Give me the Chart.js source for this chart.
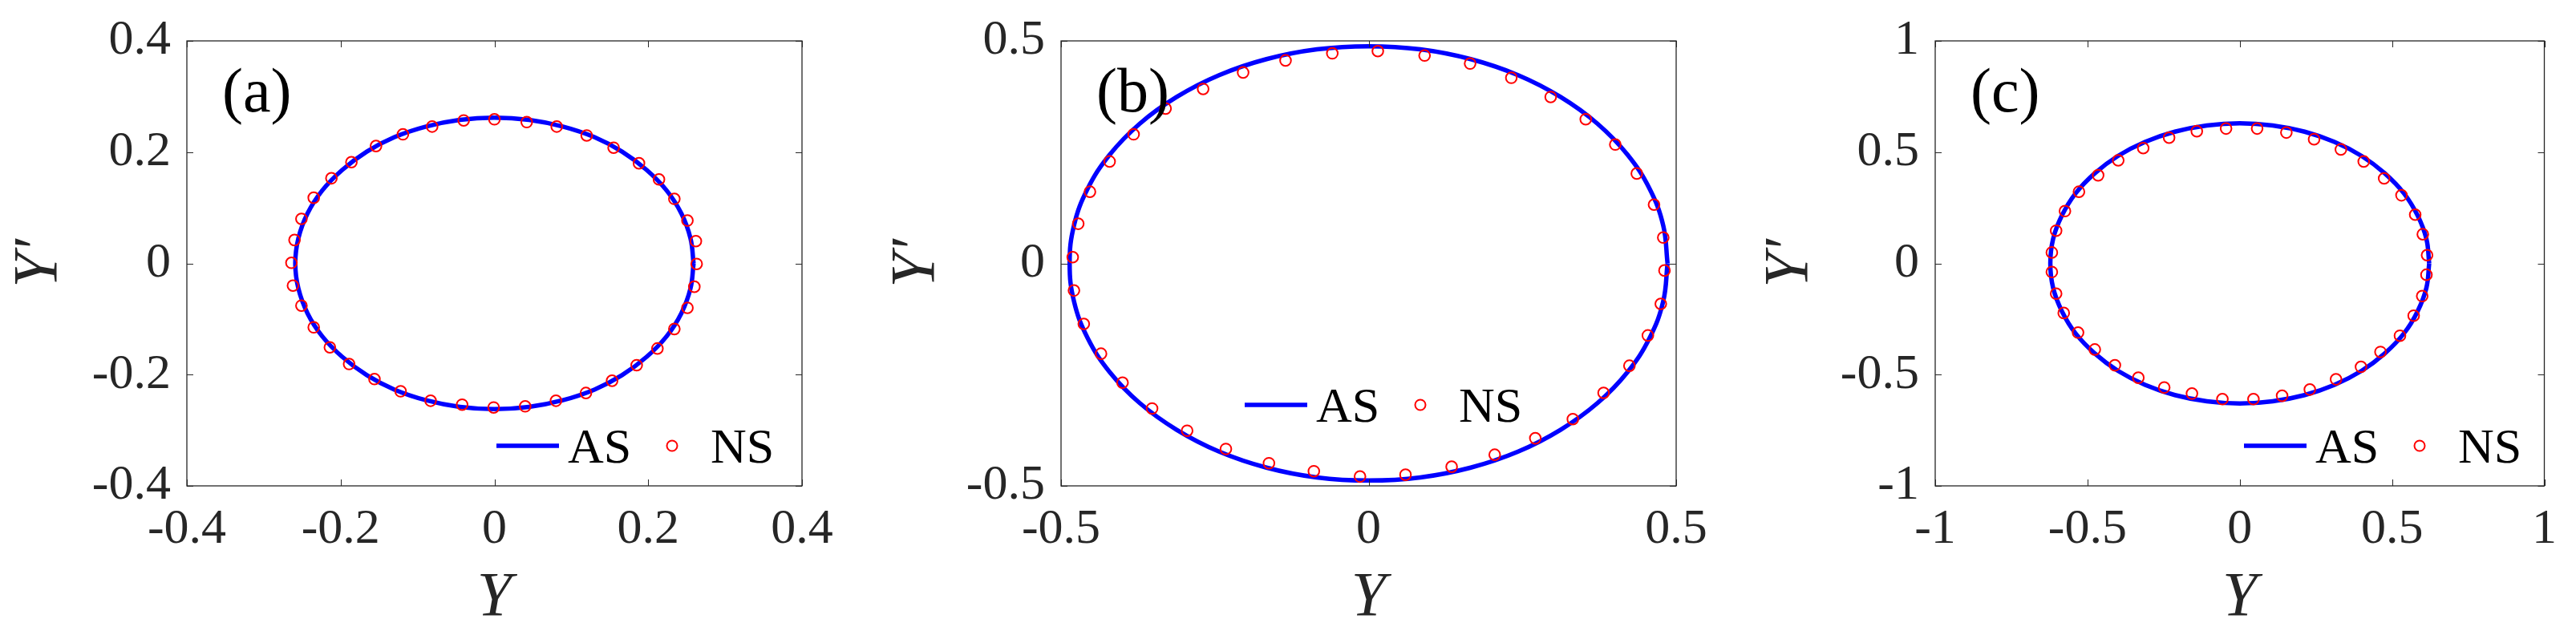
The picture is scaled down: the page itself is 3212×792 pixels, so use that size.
<!DOCTYPE html>
<html>
<head>
<meta charset="utf-8">
<script src="https://cdn.jsdelivr.net/npm/chart.js@4.4.1/dist/chart.umd.min.js"></script>
<style>
  html, body { margin: 0; padding: 0; background: #fff; }
  #wrap { position: relative; width: 3212px; height: 792px; background: #fff; }
  canvas { position: absolute; top: 0; }
</style>
</head>
<body>
<div id="wrap">
  <canvas id="panelA" width="1070" height="792" style="left:0px"></canvas>
  <canvas id="panelB" width="1090" height="792" style="left:1070px"></canvas>
  <canvas id="panelC" width="1052" height="792" style="left:2160px"></canvas>
</div>
<script>
// tick values per panel
const ticksA = [-0.4, -0.2, 0, 0.2, 0.4];
const ticksB = [-0.5, 0, 0.5];
const ticksC = [-1, -0.5, 0, 0.5, 1];

// (a) analytical solution (AS); first point repeated to close it
const asXA = [0.259, 0.255, 0.243, 0.224, 0.198, 0.166, 0.130, 0.089, 0.045, 0, -0.045, -0.089, -0.130, -0.166, -0.198, -0.224, -0.243, -0.255,
  -0.259, -0.255, -0.243, -0.224, -0.198, -0.166, -0.130, -0.089, -0.045, 0, 0.045, 0.089, 0.130, 0.166, 0.198, 0.224, 0.243, 0.255, 0.259];
const asYA = [0, 0.045, 0.090, 0.131, 0.168, 0.201, 0.227, 0.246, 0.258, 0.262, 0.258, 0.246, 0.227, 0.201, 0.168, 0.131, 0.090, 0.045,
  0, -0.045, -0.090, -0.131, -0.168, -0.201, -0.227, -0.246, -0.258, -0.262, -0.258, -0.246, -0.227, -0.201, -0.168, -0.131, -0.090, -0.045, 0];
// (a) numerical solution (NS) circles
const nsXA = [-0.264, -0.260, -0.251, -0.235, -0.212, -0.186, -0.154, -0.119, -0.081, -0.040, 0.000, 0.042, 0.081, 0.120, 0.155, 0.188, 0.214, 0.234, 0.251, 0.262,
  0.263, 0.260, 0.251, 0.234, 0.212, 0.185, 0.153, 0.119, 0.080, 0.040, -0.001, -0.042, -0.083, -0.122, -0.156, -0.189, -0.214, -0.235, -0.251, -0.262];
const nsYA = [0.001, 0.042, 0.080, 0.118, 0.153, 0.182, 0.211, 0.232, 0.246, 0.257, 0.259, 0.254, 0.246, 0.230, 0.208, 0.180, 0.151, 0.116, 0.077, 0.040,
  -0.001, -0.042, -0.080, -0.118, -0.153, -0.183, -0.211, -0.233, -0.247, -0.257, -0.259, -0.254, -0.247, -0.230, -0.208, -0.181, -0.151, -0.115, -0.076, -0.040];

// (b)
const asXB = [0.486, 0.479, 0.457, 0.421, 0.372, 0.312, 0.243, 0.166, 0.084, 0, -0.084, -0.166, -0.243, -0.312, -0.372, -0.421, -0.457, -0.479,
  -0.486, -0.479, -0.457, -0.421, -0.372, -0.312, -0.243, -0.166, -0.084, 0, 0.084, 0.166, 0.243, 0.312, 0.372, 0.421, 0.457, 0.479, 0.486];
const asYB = [0, 0.085, 0.167, 0.244, 0.314, 0.374, 0.423, 0.459, 0.481, 0.488, 0.481, 0.459, 0.423, 0.374, 0.314, 0.244, 0.167, 0.085,
  0, -0.085, -0.167, -0.244, -0.314, -0.374, -0.423, -0.459, -0.481, -0.488, -0.481, -0.459, -0.423, -0.374, -0.314, -0.244, -0.167, -0.085, 0];
const nsXB = [-0.481, -0.472, -0.453, -0.421, -0.382, -0.330, -0.269, -0.204, -0.135, -0.059, 0.015, 0.091, 0.165, 0.232, 0.296, 0.353, 0.401, 0.436, 0.464, 0.479,
  0.481, 0.475, 0.454, 0.424, 0.382, 0.332, 0.271, 0.205, 0.135, 0.060, -0.014, -0.089, -0.162, -0.232, -0.295, -0.352, -0.400, -0.435, -0.463, -0.479];
const nsYB = [0.014, 0.089, 0.161, 0.229, 0.290, 0.348, 0.392, 0.429, 0.456, 0.472, 0.477, 0.467, 0.449, 0.417, 0.374, 0.324, 0.267, 0.202, 0.132, 0.058,
  -0.016, -0.091, -0.162, -0.230, -0.291, -0.350, -0.393, -0.430, -0.457, -0.475, -0.479, -0.467, -0.449, -0.417, -0.376, -0.326, -0.268, -0.203, -0.136, -0.061];

// (c)
const asXC = [0.622, 0.613, 0.584, 0.539, 0.476, 0.400, 0.311, 0.213, 0.108, 0, -0.108, -0.213, -0.311, -0.400, -0.476, -0.539, -0.584, -0.613,
  -0.622, -0.613, -0.584, -0.539, -0.476, -0.400, -0.311, -0.213, -0.108, 0, 0.108, 0.213, 0.311, 0.400, 0.476, 0.539, 0.584, 0.613, 0.622];
const asYC = [0, 0.109, 0.215, 0.315, 0.405, 0.483, 0.546, 0.592, 0.620, 0.630, 0.620, 0.592, 0.546, 0.483, 0.405, 0.315, 0.215, 0.109,
  0, -0.109, -0.215, -0.315, -0.405, -0.483, -0.546, -0.592, -0.620, -0.630, -0.620, -0.592, -0.546, -0.483, -0.405, -0.315, -0.215, -0.109, 0];
const nsXC = [-0.617, -0.603, -0.574, -0.528, -0.465, -0.399, -0.317, -0.232, -0.141, -0.045, 0.057, 0.153, 0.244, 0.332, 0.407, 0.474, 0.531, 0.576, 0.601, 0.615,
  0.613, 0.599, 0.571, 0.526, 0.462, 0.398, 0.316, 0.230, 0.139, 0.045, -0.057, -0.157, -0.248, -0.333, -0.410, -0.476, -0.531, -0.578, -0.603, -0.617];
const nsYC = [0.049, 0.147, 0.235, 0.322, 0.396, 0.463, 0.518, 0.565, 0.594, 0.606, 0.606, 0.588, 0.558, 0.512, 0.458, 0.382, 0.306, 0.219, 0.131, 0.037,
  -0.051, -0.147, -0.235, -0.325, -0.398, -0.465, -0.521, -0.567, -0.595, -0.610, -0.610, -0.585, -0.558, -0.514, -0.458, -0.387, -0.311, -0.223, -0.136, -0.039];

const SERIF = '"Liberation Serif", "DejaVu Serif", serif';
const AXIS_COLOR = '#262626';
const AS_COLOR = '#0000ff';
const NS_COLOR = '#ff0000';

function zip(xs, ys) {
  return xs.map((x, i) => ({ x: x, y: ys[i] }));
}

function fmt(v) {
  return v === 0 ? '0' : String(v);
}

// box, inward ticks on all sides, panel tag and legend (MATLAB look)
const deco = {
  id: 'deco',
  afterDraw(chart, _args, opts) {
    const ctx = chart.ctx;
    const a = chart.chartArea;
    const xs = chart.scales.x;
    const ys = chart.scales.y;
    const tl = 8;
    ctx.save();
    ctx.strokeStyle = AXIS_COLOR;
    ctx.lineWidth = 1.3;
    ctx.strokeRect(a.left, a.top, a.right - a.left, a.bottom - a.top);
    ctx.lineWidth = 1;
    ctx.beginPath();
    xs.ticks.forEach((t) => {
      const px = Math.round(xs.getPixelForValue(t.value)) + 0.5;
      ctx.moveTo(px, a.bottom); ctx.lineTo(px, a.bottom - tl);
      ctx.moveTo(px, a.top); ctx.lineTo(px, a.top + tl);
    });
    ys.ticks.forEach((t) => {
      const py = Math.round(ys.getPixelForValue(t.value)) + 0.5;
      ctx.moveTo(a.left, py); ctx.lineTo(a.left + tl, py);
      ctx.moveTo(a.right, py); ctx.lineTo(a.right - tl, py);
    });
    ctx.stroke();

    // panel tag
    ctx.fillStyle = '#000';
    ctx.font = '78px ' + SERIF;
    ctx.textBaseline = 'alphabetic';
    ctx.textAlign = 'left';
    ctx.fillText(opts.tag, a.left + 44, a.top + 88);

    // legend, no frame
    const ds = chart.data.datasets;
    const lx = a.left + opts.legendDx;
    const ly = a.top + opts.legendDy;
    ctx.strokeStyle = AS_COLOR;
    ctx.lineWidth = 5.5;
    ctx.beginPath();
    ctx.moveTo(lx, ly); ctx.lineTo(lx + 78, ly);
    ctx.stroke();
    ctx.font = '62px ' + SERIF;
    ctx.fillText(ds[0].label, lx + 89, ly + 21);
    ctx.strokeStyle = NS_COLOR;
    ctx.lineWidth = 2;
    ctx.beginPath();
    ctx.arc(lx + 219, ly, 6.5, 0, Math.PI * 2);
    ctx.stroke();
    ctx.fillText(ds[1].label, lx + 267, ly + 21);
    ctx.restore();
  }
};

function makePanel(id, p) {
  const tickFont = { family: SERIF, size: 62, lineHeight: 1 };
  const titleFont = { family: SERIF, size: 78, style: 'italic', lineHeight: 1 };
  new Chart(document.getElementById(id).getContext('2d'), {
    type: 'scatter',
    data: {
      datasets: [
        {
          label: 'AS',
          data: zip(p.asX, p.asY),
          showLine: true,
          borderColor: AS_COLOR,
          borderWidth: 5.5,
          pointRadius: 0,
          tension: 0.4,
          fill: false,
          order: 2
        },
        {
          label: 'NS',
          data: zip(p.nsX, p.nsY),
          showLine: false,
          pointStyle: 'circle',
          pointRadius: 6.8,
          pointBorderWidth: 2,
          pointBorderColor: NS_COLOR,
          pointBackgroundColor: 'rgba(0,0,0,0)',
          order: 1
        }
      ]
    },
    options: {
      responsive: false,
      animation: false,
      devicePixelRatio: 1,
      layout: { padding: { top: 34, right: p.padRight, left: 0, bottom: 0 } },
      plugins: {
        legend: { display: false },
        tooltip: { enabled: false },
        deco: { tag: p.tag, legendDx: p.legendDx, legendDy: p.legendDy }
      },
      scales: {
        x: {
          type: 'linear',
          min: p.ticks[0],
          max: p.ticks[p.ticks.length - 1],
          afterBuildTicks: (s) => { s.ticks = p.ticks.map((v) => ({ value: v })); },
          afterFit: (s) => { s.height = 186; },
          grid: { display: false, drawTicks: false },
          border: { display: false },
          ticks: { font: tickFont, color: AXIS_COLOR, padding: 24, maxRotation: 0, callback: fmt },
          title: { display: true, text: 'Y', font: titleFont, color: AXIS_COLOR, padding: { top: 0, bottom: 7 } }
        },
        y: {
          type: 'linear',
          min: p.ticks[0],
          max: p.ticks[p.ticks.length - 1],
          afterBuildTicks: (s) => { s.ticks = p.ticks.map((v) => ({ value: v })); },
          afterFit: (s) => { s.width = p.yWidth; },
          grid: { display: false, drawTicks: false },
          border: { display: false },
          ticks: { font: tickFont, color: AXIS_COLOR, padding: 20, callback: fmt },
          title: { display: true, text: 'Y\u2032', font: titleFont, color: AXIS_COLOR, padding: { top: p.titlePad, bottom: 0 } }
        }
      }
    },
    plugins: [deco]
  });
}

makePanel('panelA', { tag: '(a)', ticks: ticksA, asX: asXA, asY: asYA, nsX: nsXA, nsY: nsYA,
  yWidth: 233, padRight: 70, titlePad: 10, legendDx: 386, legendDy: 505 });
makePanel('panelB', { tag: '(b)', ticks: ticksB, asX: asXB, asY: asYB, nsX: nsXB, nsY: nsYB,
  yWidth: 253, padRight: 70, titlePad: 34, legendDx: 229, legendDy: 454 });
makePanel('panelC', { tag: '(c)', ticks: ticksC, asX: asXC, asY: asYC, nsX: nsXC, nsY: nsYC,
  yWidth: 253, padRight: 32, titlePad: 33, legendDx: 385, legendDy: 505 });
</script>
</body>
</html>
